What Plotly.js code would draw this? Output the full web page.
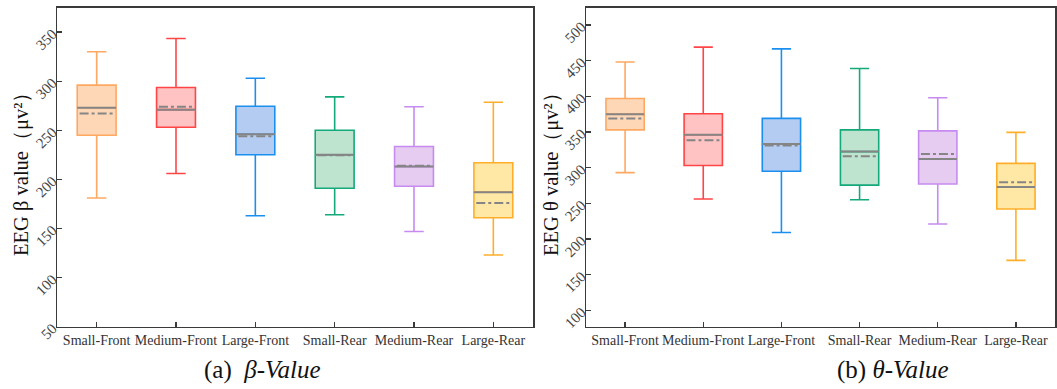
<!DOCTYPE html>
<html>
<head>
<meta charset="utf-8">
<script src="https://cdn.plot.ly/plotly-3.0.1.min.js"></script>
<style>html,body{margin:0;padding:0;background:#fff;}#chart{width:1057px;height:389px;}</style>
</head>
<body>
<div id="chart"></div>
<script>
// categories
const categories = ["Small-Front", "Medium-Front", "Large-Front", "Small-Rear", "Medium-Rear", "Large-Rear"];
const lineColors = ["#FFA862", "#FF4545", "#1A8FF0", "#14A97A", "#C68AF0", "#FFAE2A"];
const fillColors = ["#FDD7B6", "#FFC3C3", "#B4CCF2", "#BEE3CF", "#E6CCF0", "#FFE8A6"];

// beta values
const betaLower  = [181, 206, 163, 164, 147, 123];
const betaQ1     = [245, 253, 225, 191, 193, 161];
const betaMedian = [273, 271, 246, 225, 213, 187];
const betaMean   = [267, 274, 244, 224.5, 214, 176];
const betaQ3     = [296, 293.5, 274.5, 250, 233.5, 217];
const betaUpper  = [330, 343.5, 303, 284, 274, 278.5];

// theta values
const thetaLower  = [293, 256, 209, 255, 221, 170];
const thetaQ1     = [353, 303, 295, 275.5, 277, 242];
const thetaMedian = [375, 346, 333, 322.5, 312, 273];
const thetaMean   = [369, 338.5, 331, 316, 319, 279.5];
const thetaQ3     = [397, 375.5, 369, 353, 351.5, 306];
const thetaUpper  = [448, 469, 466.5, 439, 398, 349.5];

const BOXW = 0.49;
const serif = "Liberation Serif, Times New Roman, serif";

const traces = [];
const shapes = [];
function addPanel(lower, q1, med, mean, q3, upper, xa, ya) {
  categories.forEach((c, i) => {
    traces.push({
      type: "box", x: [c], q1: [q1[i]], median: [med[i]], q3: [q3[i]],
      lowerfence: [lower[i]], upperfence: [upper[i]],
      xaxis: xa, yaxis: ya, width: BOXW, whiskerwidth: 0.5,
      fillcolor: fillColors[i], line: {color: lineColors[i], width: 1.6},
      boxpoints: false, showlegend: false, hoverinfo: "y"
    });
    shapes.push({type: "line", xref: xa, yref: ya, x0: i - BOXW/2, x1: i + BOXW/2, y0: med[i], y1: med[i],
      line: {color: "#858585", width: 2}});
    shapes.push({type: "line", xref: xa, yref: ya, x0: i - BOXW/2 + 0.03, x1: i + BOXW/2 - 0.03, y0: mean[i], y1: mean[i],
      line: {color: "#858585", width: 2, dash: "dashdot"}});
  });
}
addPanel(betaLower, betaQ1, betaMedian, betaMean, betaQ3, betaUpper, "x", "y");
addPanel(thetaLower, thetaQ1, thetaMedian, thetaMean, thetaQ3, thetaUpper, "x2", "y2");

const W = 1057, H = 389;
const yDom = [(H - 326.7) / H, (H - 7.5) / H];
const axisCommon = {
  showline: true, linecolor: "#3a3a3a", linewidth: 1.5, mirror: true,
  ticks: "inside", ticklen: 5, tickwidth: 1.2, tickcolor: "#3a3a3a",
  showgrid: false, zeroline: false, fixedrange: true, automargin: false
};
const xCommon = Object.assign({}, axisCommon, {
  type: "category", categoryorder: "array", categoryarray: categories, range: [-0.5, 5.5],
  tickangle: 0, tickfont: {family: serif, size: 14, color: "#333"}
});
const yCommon = Object.assign({}, axisCommon, {
  tickangle: -45, tickfont: {family: serif, size: 15, color: "#444"}, dtick: 50
});

const layout = {
  width: W, height: H,
  margin: {l: 0, r: 0, t: 0, b: 0},
  paper_bgcolor: "#fff", plot_bgcolor: "#fff",
  boxmode: "overlay", showlegend: false,
  xaxis: Object.assign({}, xCommon, {domain: [57 / W, 533 / W], anchor: "y"}),
  xaxis2: Object.assign({}, xCommon, {domain: [586 / W, 1055 / W], anchor: "y2"}),
  yaxis: Object.assign({}, yCommon, {domain: yDom, range: [50, 375], tick0: 50, anchor: "x"}),
  yaxis2: Object.assign({}, yCommon, {domain: yDom, range: [77, 524.5], tick0: 100, anchor: "x2"}),
  shapes: shapes,
  annotations: [
    {xref: "paper", yref: "paper", x: 22 / W, y: 1 - 169 / H, text: "EEG β value（μv²）", textangle: -90,
     showarrow: false, font: {family: serif, size: 20.5, color: "#111"}, xanchor: "center", yanchor: "middle"},
    {xref: "paper", yref: "paper", x: 552 / W, y: 1 - 169 / H, text: "EEG θ value（μv²）", textangle: -90,
     showarrow: false, font: {family: serif, size: 20.5, color: "#111"}, xanchor: "center", yanchor: "middle"},
    {xref: "paper", yref: "paper", x: 262 / W, y: 1 - 370 / H, text: "(a)  <i>β-Value</i>",
     showarrow: false, font: {family: serif, size: 25, color: "#111"}, xanchor: "center", yanchor: "middle"},
    {xref: "paper", yref: "paper", x: 893 / W, y: 1 - 370 / H, text: "(b) <i>θ-Value</i>",
     showarrow: false, font: {family: serif, size: 25, color: "#111"}, xanchor: "center", yanchor: "middle"}
  ]
};

Plotly.newPlot("chart", traces, layout, {staticPlot: true, displayModeBar: false});
</script>
</body>
</html>
